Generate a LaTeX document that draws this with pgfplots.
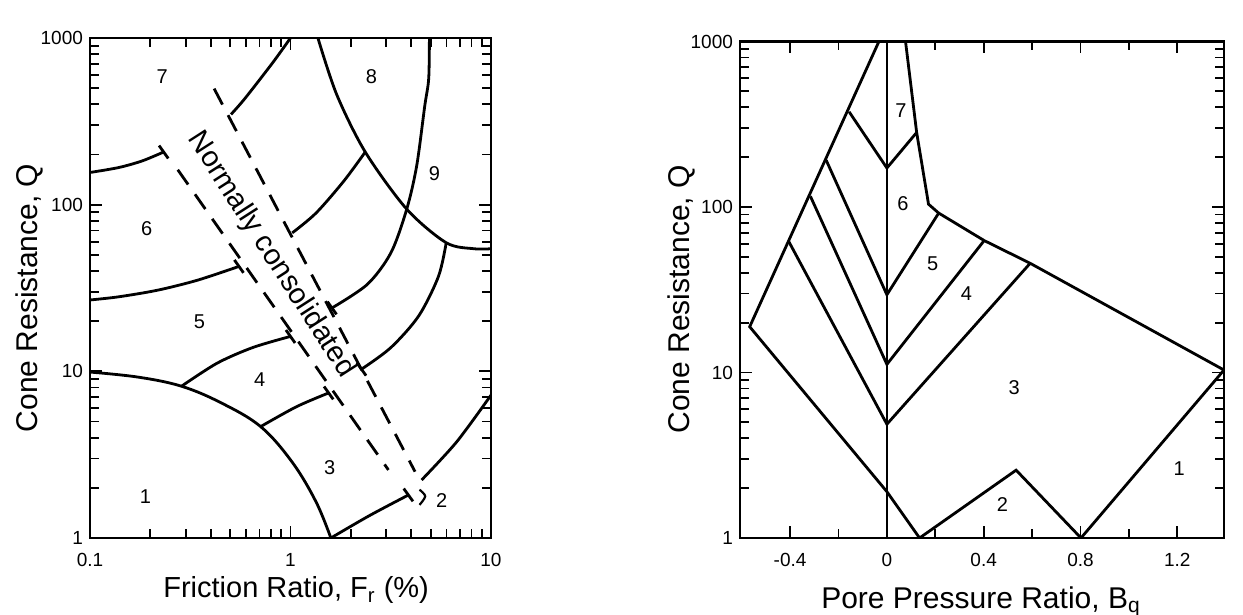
\documentclass[border=0pt]{standalone}
\usepackage{fontspec}
\setmainfont{Liberation Sans}
\usepackage{pgfplots}
\pgfplotsset{compat=1.18}
\tikzset{zone/.style={font=\fontsize{10}{12}\selectfont}}
\begin{document}
\begin{tikzpicture}
\pgfplotsset{
  every axis/.append style={
    scale only axis,
    axis line style={line width=1.3pt},
    tick style={line width=0.9pt, black},
    major tick length=6pt, minor tick length=4.5pt,
    tick label style={font=\fontsize{9.5}{11}\selectfont},
    xticklabel shift=4pt,
    label style={font=\fontsize{15}{18}\selectfont},
    /pgf/number format/assume math mode=true,
    cycle list={{black, line width=1.4pt, mark=none}},
  },
  every axis plot/.append style={black, line width=1.4pt, mark=none},
}
\path[use as bounding box] (0,0) rectangle (621.5pt,307.5pt);

% ---------------- Left chart ----------------
\begin{axis}[at={(45pt,38.5pt)}, anchor=south west, width=200.5pt, height=250pt,
  xmode=log, ymode=log, xmin=0.1, xmax=10, ymin=1, ymax=1000,
  xtick={0.1,1,10}, xticklabels={0.1,1,10},
  ytick={1,10,100,1000}, yticklabels={1,10,100,1000},
  minor xtick={0.2,0.3,0.4,0.5,0.6,0.7,0.8,0.9,2,3,4,5,6,7,8,9},
  minor ytick={2,3,4,5,6,7,8,9,20,30,40,50,60,70,80,90,200,300,400,500,600,700,800,900},
  xlabel={Friction Ratio, F\textsubscript{r} (\%)},
  ylabel={Cone Resistance, Q},
  xlabel style={at={(axis description cs:0.514,-0.12)}, anchor=base, font=\fontsize{14.5}{18}\selectfont},
  ylabel style={at={(axis description cs:-0.131,0.48)}, anchor=base},
]
% boundary 1
\addplot[smooth, tension=0.6] coordinates {(0.1,9.9) (0.174,9.23) (0.286,8.14) (0.451,6.47) (0.71,4.66) (1.02,2.85) (1.34,1.65) (1.59,1)};
% 4/5
\addplot[smooth] coordinates {(0.286,8.14) (0.431,11.2) (0.649,13.9) (1.0,16.2)};
% 3/4
\addplot[smooth] coordinates {(0.71,4.66) (1.07,6.13) (1.55,7.42)};
% 2/3
\addplot[smooth] coordinates {(1.59,1) (2.47,1.36) (3.87,1.81)};
% zone 2 upper
\addplot[smooth] coordinates {(4.51,2.23) (6.75,3.78) (10,7.2)};
% hook
\addplot[smooth, line width=1.1pt] coordinates {(4.40,1.95) (4.70,1.78) (4.40,1.58)};
% 5/6
\addplot[smooth] coordinates {(0.1,26.8) (0.139,28.0) (0.218,30.7) (0.343,35.2) (0.553,42.6)};
% 6/7
\addplot[smooth] coordinates {(0.1,156) (0.139,167) (0.182,183) (0.233,207)};
% 7 right
\addplot[smooth] coordinates {(0.505,348) (0.592,433) (0.813,708) (1.0,1000)};
% I
\addplot[smooth] coordinates {(1.02,67.7) (1.34,89) (1.84,138) (2.36,207)};
% J (zone 8 lower-left)
\addplot[smooth] coordinates {(1.37,1000) (1.70,458) (2.36,207) (3.80,94) (5.98,59.1) (8.22,54.4) (10,54.4)};
% K
\addplot[smooth] coordinates {(4.93,1000) (4.89,570) (4.67,389) (4.26,171) (3.80,94) (3.17,51.5) (2.42,33.3) (1.61,24.0)};
% L
\addplot[smooth] coordinates {(5.98,59.1) (5.47,37.1) (4.36,21.5) (3.17,13.9) (2.26,10.3)};
% T bars
\addplot[sharp plot] coordinates {(0.221,226.3) (0.2456,189.4)};
\addplot[sharp plot] coordinates {(0.525,46.6) (0.583,39.0)};
\addplot[sharp plot] coordinates {(0.949,17.7) (1.054,14.8)};
\addplot[sharp plot] coordinates {(1.47,8.11) (1.634,6.79)};
\addplot[sharp plot] coordinates {(3.67,1.98) (4.08,1.66)};
\addplot[sharp plot] coordinates {(1.528,26.2) (1.697,21.96)};
\addplot[sharp plot] coordinates {(2.144,11.26) (2.382,9.42)};
% dashed NC band
\addplot[sharp plot, dash pattern=on 9pt off 6pt] coordinates {(0.274,162) (3.08,2.56)};
\addplot[sharp plot, dash pattern=on 9pt off 6pt] coordinates {(0.416,497) (4.18,2.50)};
% labels
\node[zone] at (axis cs:0.229,585) {7};
\node[zone] at (axis cs:2.53,585) {8};
\node[zone] at (axis cs:5.22,154) {9};
\node[zone] at (axis cs:0.192,72.3) {6};
\node[zone] at (axis cs:0.351,19.8) {5};
\node[zone] at (axis cs:0.703,8.88) {4};
\node[zone] at (axis cs:1.57,2.63) {3};
\node[zone] at (axis cs:0.189,1.76) {1};
\node[zone] at (axis cs:5.68,1.67) {2};
\node[font=\fontsize{14.5}{16}\selectfont, rotate=-57.3] at (axis cs:0.8,50) {Normally consolidated};
\end{axis}

% ---------------- Right chart ----------------
\begin{axis}[at={(370pt,38.5pt)}, anchor=south west, width=242pt, height=248.25pt,
  ymode=log, xmin=-0.607, xmax=1.393, ymin=1, ymax=1000,
  xtick={-0.4,0,0.4,0.8,1.2}, xticklabels={-0.4,0,0.4,0.8,1.2},
  minor xtick={-0.2,0.2,0.6,1.0},
  ytick={1,10,100,1000}, yticklabels={1,10,100,1000},
  minor ytick={2,3,4,5,6,7,8,9,20,30,40,50,60,70,80,90,200,300,400,500,600,700,800,900},
  xlabel={Pore Pressure Ratio, B\textsubscript{q}},
  ylabel={Cone Resistance, Q},
  xlabel style={at={(axis description cs:0.498,-0.141)}, anchor=base},
  ylabel style={at={(axis description cs:-0.104,0.481)}, anchor=base},
]
\addplot[sharp plot] coordinates {(-0.033,1000) (-0.567,18.9) (0,1.905) (0.135,1) (0.534,2.57) (0.802,1) (1.393,10.35) (0.592,45.7) (0.402,62.7) (0.214,91.9) (0.172,104) (0.123,282) (0.077,1000)};
\addplot[sharp plot] coordinates {(0,1) (0,1000)};
\addplot[sharp plot] coordinates {(-0.156,376) (0,172) (0.123,282)};
\addplot[sharp plot] coordinates {(-0.251,192) (0,29.5) (0.214,91.9)};
\addplot[sharp plot] coordinates {(-0.316,116) (0,11.2) (0.402,62.7)};
\addplot[sharp plot] coordinates {(-0.406,62.1) (0,4.87) (0.592,45.7)};
\node[zone] at (axis cs:0.058,380) {7};
\node[zone] at (axis cs:0.066,105) {6};
\node[zone] at (axis cs:0.189,45.7) {5};
\node[zone] at (axis cs:0.329,30) {4};
\node[zone] at (axis cs:0.526,8.1) {3};
\node[zone] at (axis cs:0.477,1.59) {2};
\node[zone] at (axis cs:1.208,2.64) {1};
\end{axis}
\end{tikzpicture}
\end{document}
